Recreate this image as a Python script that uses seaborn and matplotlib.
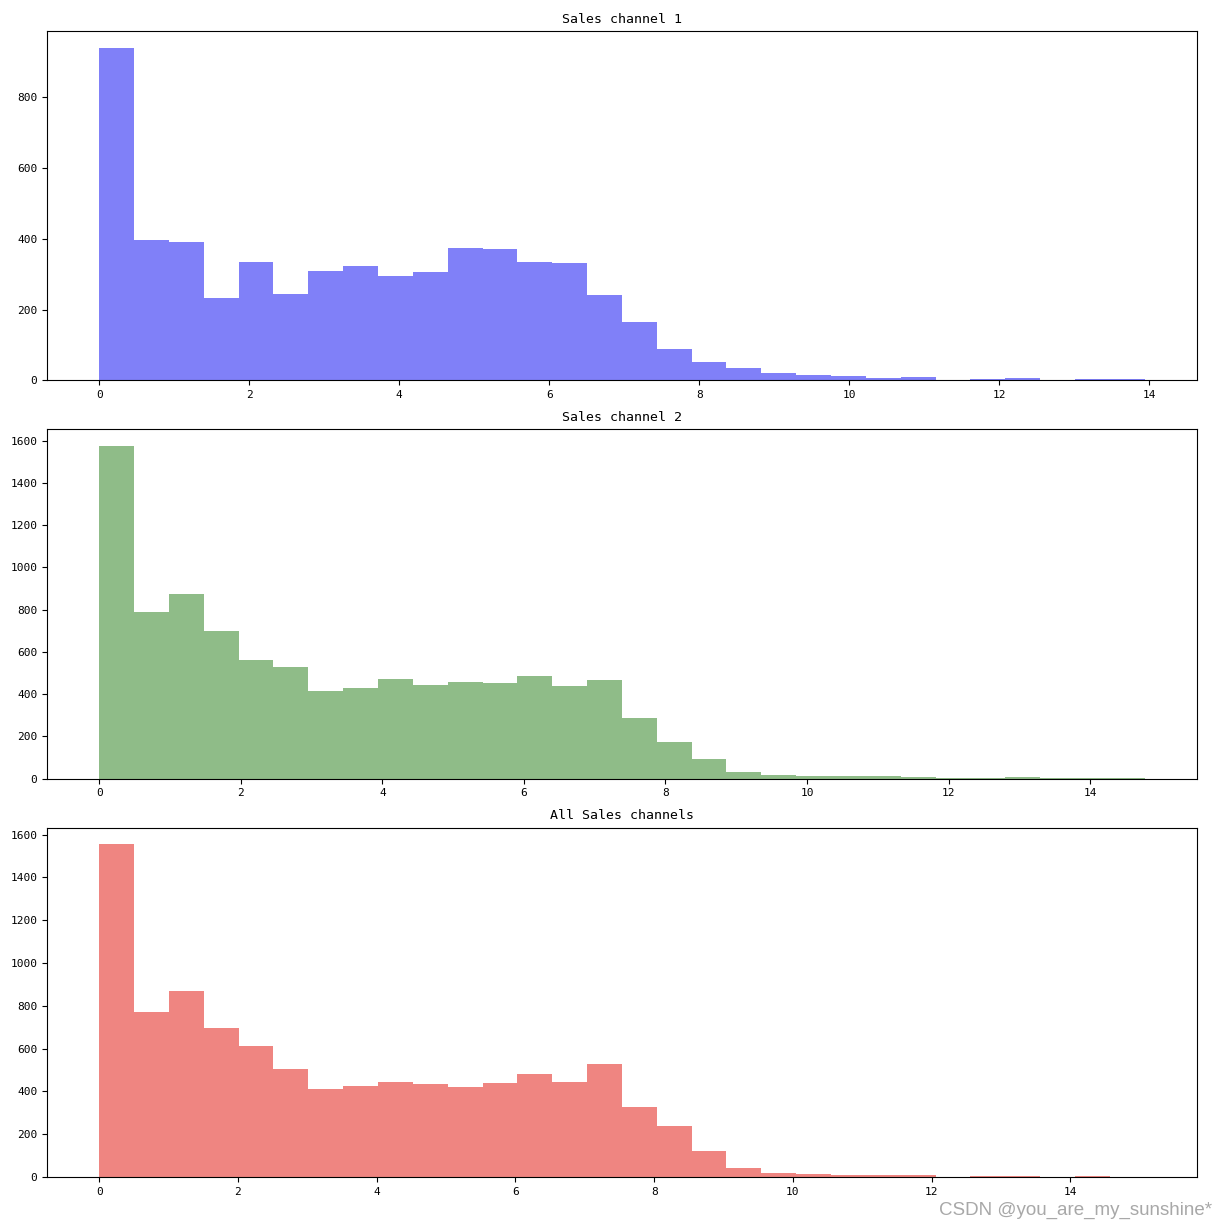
import numpy as np
import pandas as pd
import matplotlib
matplotlib.use("Agg")
import matplotlib.pyplot as plt
import seaborn as sns

# Histogram counts (30 bins per panel)
ch1_counts = [940, 396, 391, 234, 335, 245, 308, 323, 294, 306, 375, 372, 335, 331, 241,
              165, 89, 51, 35, 21, 16, 12, 7, 9, 2, 4, 7, 0, 3, 3]
ch1_range = (0, 13.94)

ch2_counts = [1575, 787, 874, 698, 564, 528, 413, 428, 473, 444, 460, 454, 485, 441, 469,
              285, 172, 91, 30, 16, 11, 11, 11, 8, 5, 5, 9, 5, 5, 4]
ch2_range = (0, 14.77)

all_counts = [1555, 773, 869, 698, 614, 506, 413, 426, 446, 435, 421, 438, 480, 446, 527,
              327, 238, 122, 41, 20, 16, 11, 8, 8, 0, 5, 5, 0, 5, 1]
all_range = (0, 15.07)

titles = ["Sales channel 1", "Sales channel 2", "All Sales channels"]
colors = ["#8080F8", "#8FBC88", "#EF8581"]

plt.rcParams["font.family"] = ["DejaVu Sans Mono"]

fig, axes = plt.subplots(3, 1, figsize=(12.26, 12.28), dpi=100)
plt.subplots_adjust(left=0.0383, right=0.9763, top=0.9748, bottom=0.0415, hspace=0.14)

panels = [(ch1_counts, ch1_range), (ch2_counts, ch2_range), (all_counts, all_range)]
for ax, (counts, rng), title, color in zip(axes, panels, titles, colors):
    n = len(counts)
    edges = np.linspace(rng[0], rng[1], n + 1)
    df = pd.DataFrame({"value": (edges[:-1] + edges[1:]) / 2, "count": counts})
    sns.histplot(data=df, x="value", weights="count", bins=n, binrange=rng, ax=ax,
                 color=color, alpha=1, linewidth=0)
    ax.set_title(title, fontsize=9.5)
    ax.set(xlabel="", ylabel="")
    ax.tick_params(labelsize=8)

# watermark
fig.text(0.9886, 0.0106, "CSDN @you_are_my_sunshine*", ha="right", va="baseline",
         fontsize=13.5, color="#A8A8A8", family=["Liberation Sans", "DejaVu Sans"])

plt.savefig("out.png")
